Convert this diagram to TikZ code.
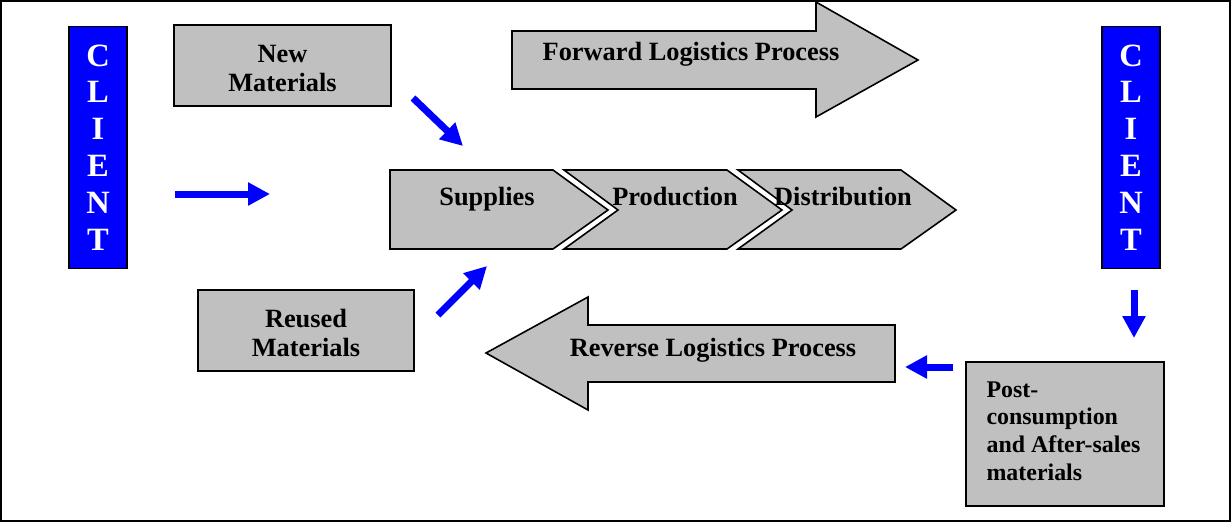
\documentclass[tikz,border=0pt]{standalone}
\usepackage{fontspec}
\setmainfont{Liberation Serif}
\usetikzlibrary{arrows.meta}
\definecolor{boxgray}{HTML}{C0C0C0}
\definecolor{pureblue}{HTML}{0000FF}
\begin{document}
\begin{tikzpicture}[x=0.02cm, y=-0.02cm]
\tikzstyle{box}=[draw, fill=boxgray, line width=0.9pt, inner sep=0pt]
\tikzstyle{boxtxt}=[inner sep=0pt, align=center, font=\fontsize{15}{16.5}\selectfont\bfseries]
\tikzstyle{grayshape}=[draw, fill=boxgray, line width=0.9pt, line join=miter]
\tikzstyle{lbl}=[draw=none, fill=none, inner sep=0pt, anchor=base, font=\fontsize{15}{16.5}\selectfont\bfseries]
\tikzstyle{client}=[draw, fill=pureblue, line width=0.9pt, text=white, inner sep=0pt, minimum width=1.16cm, minimum height=4.84cm, align=center, font=\fontsize{18.5}{21}\selectfont\bfseries]
\tikzstyle{flow}=[pureblue, line width=0.14cm, -{Triangle[length=0.44cm, width=0.44cm]}]
\useasboundingbox (0,0) rectangle (1231,522);
\draw[line width=0.8pt] (1,1) rectangle (1230,521);

% clients
\node[client] (clientL) at (98,147.5) {C\\L\\I\\E\\N\\T};
\node[client] (clientR) at (1131,147.5) {C\\L\\I\\E\\N\\T};

% material boxes
\node[box, minimum width=4.34cm, minimum height=1.62cm] (newmat) at (282.5,65.5) {};
\node[boxtxt] (newtxt) at ([yshift=-0.06cm]newmat.center) {New\\Materials};
\node[box, minimum width=4.32cm, minimum height=1.62cm] (reused) at (306,330.5) {};
\node[boxtxt] (reusedtxt) at ([yshift=-0.04cm]reused.center) {Reused\\Materials};
\node[box, minimum width=3.96cm, minimum height=2.88cm] (post) at (1065,434) {};
\node[boxtxt, align=left, anchor=west, font=\fontsize{13.6}{15.7}\selectfont\bfseries] (posttxt) at ([xshift=0.42cm, yshift=0.06cm]post.west) {Post-\\consumption\\and After-sales\\materials};

% big process arrows
\draw[grayshape] (512,31) -- (816,31) -- (816,2) -- (918,60) -- (816,117) -- (816,89) -- (512,89) -- cycle;
\node[lbl] (fwd) at (691,60.5) {Forward Logistics Process};
\draw[grayshape] (895,325) -- (588,325) -- (588,297) -- (486,353) -- (588,410) -- (588,382) -- (895,382) -- cycle;
\node[lbl] (rev) at (713,356) {Reverse Logistics Process};

% value chain
\draw[grayshape] (390,170) -- (553,170) -- (608,210) -- (553,249) -- (390,249) -- cycle;
\draw[grayshape] (564,170) -- (727,170) -- (782,210) -- (727,249) -- (564,249) -- (618,210) -- cycle;
\draw[grayshape] (738,170) -- (901,170) -- (956,210) -- (901,249) -- (738,249) -- (792,210) -- cycle;
\node[lbl] (sup) at (487,205.5) {Supplies};
\node[lbl] (prod) at (675,205.5) {Production};
\node[lbl] (dist) at (843,205.5) {Distribution};

% blue flows
\coordinate (a1) at (175,194);
\coordinate (b1) at (270,194);
\coordinate (a2) at (413,98);
\coordinate (b2) at (463,146);
\coordinate (a3) at (438,315);
\coordinate (b3) at (487,266);
\coordinate (a4) at (1134,290);
\coordinate (b4) at (1134,338);
\coordinate (a5) at (953,367);
\coordinate (b5) at (905,367);
\draw[flow] (a1) -- (b1);
\draw[flow] (a2) -- (b2);
\draw[flow] (a3) -- (b3);
\draw[flow] (a4) -- (b4);
\draw[flow] (a5) -- (b5);
\end{tikzpicture}
\end{document}
